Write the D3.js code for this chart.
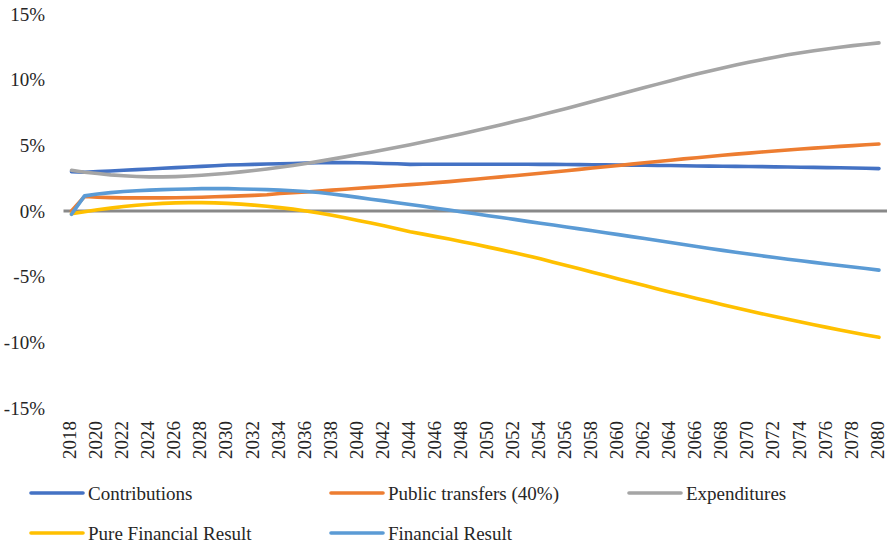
<!DOCTYPE html>
<html>
<head>
<meta charset="utf-8">
<script src="https://cdn.jsdelivr.net/npm/d3@7"></script>
<style>
  html, body { margin: 0; padding: 0; background: #fff; }
  svg { display: block; }
  svg text { font-family: "Liberation Serif", "DejaVu Serif", "Times New Roman", serif; }
</style>
</head>
<body>
<svg id="chart" width="887" height="546"></svg>
<script>
// Years 2018–2080, one value per year (% of GDP)
const years = d3.range(2018, 2081);

const contributions = [
  3.00, 2.95, 3.00, 3.05, 3.10, 3.15, 3.20, 3.25, 3.30, 3.35,
  3.40, 3.45, 3.50, 3.52, 3.55, 3.58, 3.60, 3.62, 3.65, 3.67,
  3.68, 3.68, 3.67, 3.65, 3.62, 3.60, 3.55, 3.56, 3.56, 3.56,
  3.56, 3.56, 3.56, 3.56, 3.56, 3.56, 3.55, 3.55, 3.54, 3.53,
  3.52, 3.51, 3.50, 3.49, 3.48, 3.47, 3.46, 3.45, 3.43, 3.42,
  3.41, 3.40, 3.39, 3.38, 3.36, 3.35, 3.33, 3.32, 3.30, 3.29,
  3.27, 3.25, 3.23
];

const publicTransfers = [
  0.00, 1.10, 1.05, 1.02, 1.00, 1.00, 1.00, 1.00, 1.01, 1.03,
  1.05, 1.08, 1.11, 1.15, 1.19, 1.24, 1.33, 1.39, 1.45, 1.52,
  1.59, 1.66, 1.73, 1.80, 1.87, 1.94, 2.01, 2.08, 2.16, 2.24,
  2.33, 2.42, 2.51, 2.60, 2.69, 2.78, 2.87, 2.97, 3.07, 3.17,
  3.27, 3.37, 3.47, 3.57, 3.67, 3.77, 3.87, 3.97, 4.06, 4.15,
  4.24, 4.33, 4.41, 4.49, 4.57, 4.65, 4.72, 4.79, 4.86, 4.92,
  4.98, 5.04, 5.10
];

const expenditures = [
  3.10, 2.95, 2.85, 2.75, 2.68, 2.63, 2.60, 2.60, 2.62, 2.66,
  2.72, 2.80, 2.88, 2.98, 3.08, 3.20, 3.33, 3.47, 3.62, 3.78,
  3.95, 4.12, 4.30, 4.48, 4.67, 4.86, 5.05, 5.25, 5.46, 5.67,
  5.89, 6.11, 6.34, 6.57, 6.81, 7.05, 7.30, 7.55, 7.81, 8.07,
  8.33, 8.60, 8.87, 9.14, 9.40, 9.66, 9.92, 10.18, 10.43, 10.66,
  10.89, 11.11, 11.32, 11.52, 11.71, 11.89, 12.05, 12.20, 12.34, 12.47,
  12.59, 12.70, 12.80
];

const pureFinancialResult = [
  -0.20, -0.05, 0.10, 0.22, 0.34, 0.44, 0.52, 0.58, 0.62, 0.64,
  0.64, 0.62, 0.58, 0.52, 0.45, 0.36, 0.26, 0.14, 0.00, -0.15,
  -0.33, -0.52, -0.72, -0.92, -1.13, -1.35, -1.58, -1.76, -1.95, -2.14,
  -2.34, -2.54, -2.75, -2.96, -3.18, -3.40, -3.63, -3.90, -4.15, -4.40,
  -4.66, -4.92, -5.18, -5.43, -5.68, -5.93, -6.18, -6.42, -6.66, -6.90,
  -7.14, -7.37, -7.60, -7.82, -8.04, -8.25, -8.46, -8.66, -8.86, -9.06,
  -9.25, -9.44, -9.62
];

const financialResult = [
  -0.25, 1.15, 1.30, 1.40, 1.48, 1.54, 1.59, 1.63, 1.66, 1.68,
  1.70, 1.70, 1.70, 1.68, 1.66, 1.63, 1.59, 1.54, 1.48, 1.41,
  1.30, 1.17, 1.04, 0.90, 0.77, 0.63, 0.50, 0.36, 0.21, 0.07,
  -0.07, -0.21, -0.36, -0.50, -0.64, -0.79, -0.93, -1.07, -1.22, -1.36,
  -1.50, -1.65, -1.80, -1.95, -2.10, -2.25, -2.40, -2.55, -2.70, -2.85,
  -3.00, -3.14, -3.28, -3.41, -3.54, -3.67, -3.79, -3.91, -4.03, -4.15,
  -4.27, -4.38, -4.50
];

const seriesNames = ["Contributions", "Public transfers (40%)", "Expenditures",
                     "Pure Financial Result", "Financial Result"];
const seriesColors = ["#4472C4", "#ED7D31", "#A5A5A5", "#FFC000", "#5B9BD5"];
const seriesValues = [contributions, publicTransfers, expenditures,
                      pureFinancialResult, financialResult];

const yTicks = [-15, -10, -5, 0, 5, 10, 15];
const xTickYears = years.filter(y => (y - 2018) % 2 === 0);

const svg = d3.select("#chart");
const fontSize = 19;
const fontFamily = '"Liberation Serif", "DejaVu Serif", "Times New Roman", serif';
const textColor = "#262626";

const x = d3.scalePoint().domain(years).range([65, 885.5]).padding(0.5);
const y = d3.scaleLinear().domain([-15, 15]).range([408, 14]);

// Y axis labels (no axis line, no ticks)
const yAxis = d3.axisLeft(y).tickValues(yTicks).tickFormat(d => d + "%").tickSize(0).tickPadding(0);
const gy = svg.append("g").attr("transform", "translate(45,0)").call(yAxis)
  .attr("font-family", fontFamily).attr("font-size", fontSize);
gy.select(".domain").remove();
gy.selectAll("text").attr("fill", textColor);

// Category axis labels, rotated
const xAxis = d3.axisBottom(x).tickValues(xTickYears).tickSize(0).tickPadding(0);
const gx = svg.append("g").attr("transform", "translate(0,421)").call(xAxis)
  .attr("font-family", fontFamily).attr("font-size", fontSize);
gx.select(".domain").remove();
gx.selectAll("text")
  .attr("fill", textColor)
  .attr("text-anchor", "end")
  .attr("transform", "rotate(-90)")
  .attr("x", 0)
  .attr("y", 0)
  .attr("dy", "0.22em");

// Horizontal zero line spanning the category band
svg.append("line")
  .attr("x1", x(years[0]) - x.step() / 2 - 1.5)
  .attr("x2", x(years[years.length - 1]) + x.step() / 2 + 2)
  .attr("y1", y(0)).attr("y2", y(0))
  .attr("stroke", "#898989")
  .attr("stroke-width", 3);

// Series lines
const line = d3.line()
  .x((d, i) => x(years[i]))
  .y(d => y(d));

svg.append("g").selectAll("path")
  .data(seriesValues)
  .join("path")
  .attr("d", d => line(d))
  .attr("fill", "none")
  .attr("stroke", (d, i) => seriesColors[i])
  .attr("stroke-width", 3.6)
  .attr("stroke-linecap", "round")
  .attr("stroke-linejoin", "round");

// Legend: two rows
const legendPos = [
  { x: 30, y: 493 }, { x: 330, y: 493 }, { x: 628, y: 493 },
  { x: 30, y: 533 }, { x: 330, y: 533 }
];
const lg = svg.append("g")
  .attr("font-family", fontFamily).attr("font-size", fontSize)
  .selectAll("g")
  .data(seriesNames)
  .join("g")
  .attr("transform", (d, i) => `translate(${legendPos[i].x},${legendPos[i].y})`);
lg.append("line")
  .attr("x1", 1).attr("x2", 53).attr("y1", 0).attr("y2", 0)
  .attr("stroke", (d, i) => seriesColors[i])
  .attr("stroke-width", 3.6)
  .attr("stroke-linecap", "round");
lg.append("text")
  .attr("x", 58)
  .attr("dy", "0.35em")
  .attr("fill", textColor)
  .text(d => d);
</script>
</body>
</html>
